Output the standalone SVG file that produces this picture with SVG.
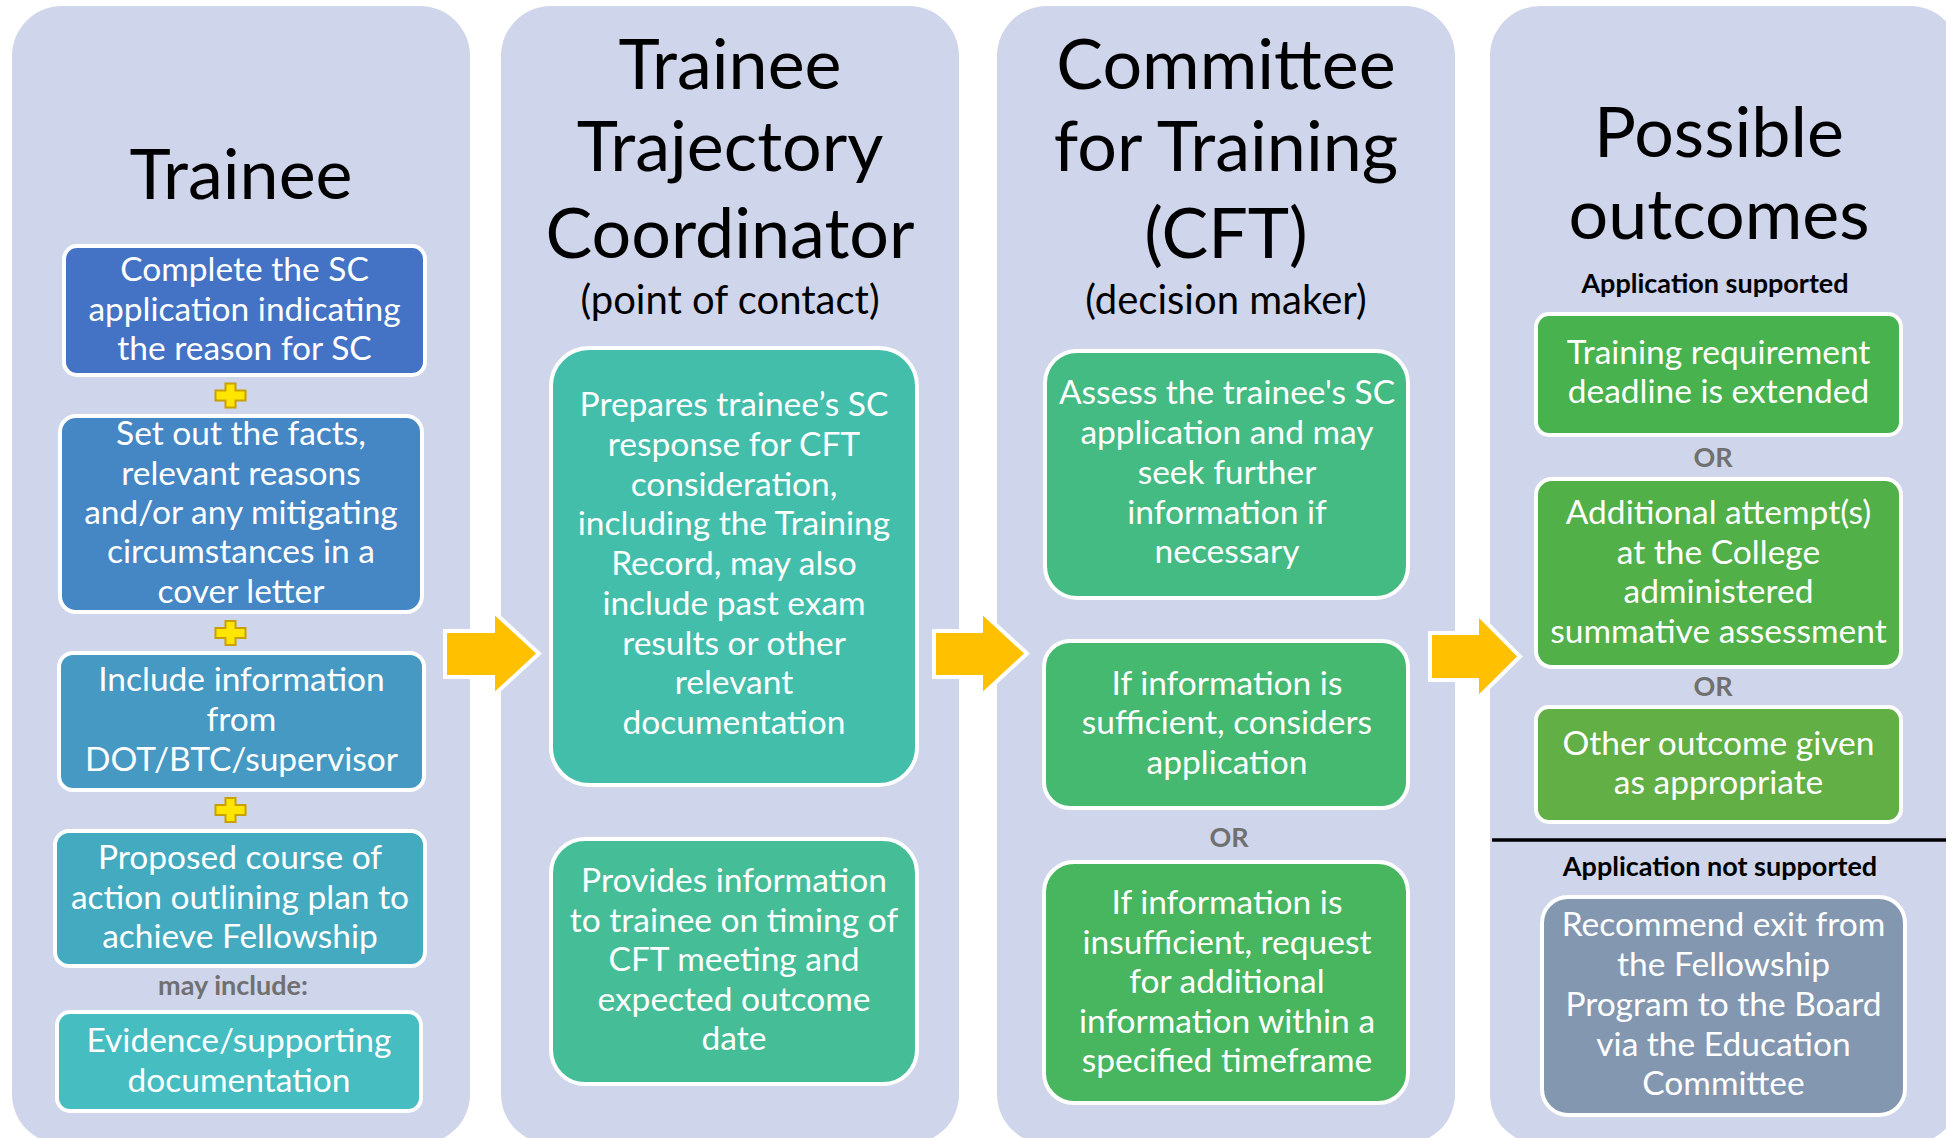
<svg xmlns="http://www.w3.org/2000/svg" width="1946" height="1138" viewBox="0 0 1946 1138">
<style>
.col{fill:#CFD5EA}
.title{font-family:Lato,"Open Sans","Liberation Sans",sans-serif;font-size:70px;fill:#000;text-anchor:middle}
.sub{font-family:Lato,"Open Sans","Liberation Sans",sans-serif;font-size:40px;fill:#000;text-anchor:middle}
.box{stroke:#fff;stroke-width:4}
.bt{font-family:Lato,"Open Sans","Liberation Sans",sans-serif;font-size:33.5px;fill:#fff;text-anchor:middle}
.lbl{font-family:Lato,"Open Sans","Liberation Sans",sans-serif;font-size:27px;font-weight:bold;text-anchor:middle}
.gray{fill:#707070}
.blk{fill:#000}
.arrow{fill:#FFC000;stroke:#fff;stroke-width:4;stroke-linejoin:miter}
.plus{fill:#FFE500;stroke:#C8A000;stroke-width:2}
</style>
<rect width="1946" height="1138" fill="#fff"/>

<g id="lanes">
<rect id="lane-trainee" class="col" x="12" y="6" width="458" height="1138" rx="50"/>
<rect id="lane-ttc" class="col" x="501" y="6" width="458" height="1138" rx="50"/>
<rect id="lane-cft" class="col" x="997" y="6" width="458" height="1138" rx="50"/>
<rect id="lane-outcomes" class="col" x="1490" y="6" width="470" height="1138" rx="50"/>
</g>

<g id="titles">
<text class="title" x="241" y="199">Trainee</text>
<text class="title" x="730" y="89">Trainee</text>
<text class="title" x="730" y="171">Trajectory</text>
<text class="title" x="730" y="258">Coordinator</text>
<text class="sub" x="730" y="314">(point of contact)</text>
<text class="title" x="1226" y="89">Committee</text>
<text class="title" x="1226" y="171">for Training</text>
<text class="title" x="1226" y="258">(CFT)</text>
<text class="sub" x="1226" y="314">(decision maker)</text>
<text class="title" x="1719" y="157">Possible</text>
<text class="title" x="1719" y="239">outcomes</text>
</g>

<g id="connectors">
<polygon class="arrow" points="445,631 493,631 493,611 539,653.5 493,696 493,677 445,677"/>
<polygon class="arrow" points="934,631 981,631 981,611 1027,653.5 981,696 981,677 934,677"/>
<polygon class="arrow" points="1430,633 1477,633 1477,613 1520,656.5 1477,699 1477,680 1430,680"/>
</g>

<g id="plus-signs">
<polygon class="plus" points="225.5,383.5 235.5,383.5 235.5,390.5 245.5,390.5 245.5,400.5 235.5,400.5 235.5,407.5 225.5,407.5 225.5,400.5 215.5,400.5 215.5,390.5 225.5,390.5"/>
<polygon class="plus" points="225.5,621 235.5,621 235.5,628 245.5,628 245.5,638 235.5,638 235.5,645 225.5,645 225.5,638 215.5,638 215.5,628 225.5,628"/>
<polygon class="plus" points="225.5,798 235.5,798 235.5,805 245.5,805 245.5,815 235.5,815 235.5,822 225.5,822 225.5,815 215.5,815 215.5,805 225.5,805"/>
</g>

<g id="node-complete">
<rect class="box" x="64" y="246" width="361" height="129" rx="13" fill="#4472C4"/>
<text class="bt" x="244.5" y="281">Complete the SC</text>
<text class="bt" x="244.5" y="321">application indicating</text>
<text class="bt" x="244.5" y="360">the reason for SC</text>
</g>

<g id="node-facts">
<rect class="box" x="60" y="416" width="362" height="196" rx="16" fill="#4586C4"/>
<text class="bt" x="241" y="445">Set out the facts,</text>
<text class="bt" x="241" y="485">relevant reasons</text>
<text class="bt" x="241" y="524">and/or any mitigating</text>
<text class="bt" x="241" y="563">circumstances in a</text>
<text class="bt" x="241" y="603">cover letter</text>
</g>

<g id="node-include">
<rect class="box" x="59" y="653" width="365" height="137" rx="14" fill="#4599C3"/>
<text class="bt" x="241.5" y="691">Include information</text>
<text class="bt" x="241.5" y="731">from</text>
<text class="bt" x="241.5" y="771">DOT/BTC/supervisor</text>
</g>

<g id="node-proposed">
<rect class="box" x="55" y="831" width="370" height="135" rx="14" fill="#43AAC0"/>
<text class="bt" x="240" y="869">Proposed course of</text>
<text class="bt" x="240" y="909">action outlining plan to</text>
<text class="bt" x="240" y="948">achieve Fellowship</text>
</g>

<text class="lbl gray" x="233" y="995">may include:</text>

<g id="node-evidence">
<rect class="box" x="57" y="1012" width="364" height="99" rx="13" fill="#45BDC1"/>
<text class="bt" x="239" y="1052">Evidence/supporting</text>
<text class="bt" x="239" y="1092">documentation</text>
</g>

<g id="node-prepares">
<rect class="box" x="551" y="348" width="366" height="437" rx="38" fill="#43BEAB"/>
<text class="bt" x="734" y="416">Prepares trainee’s SC</text>
<text class="bt" x="734" y="456">response for CFT</text>
<text class="bt" x="734" y="495.5">consideration,</text>
<text class="bt" x="734" y="535">including the Training</text>
<text class="bt" x="734" y="575">Record, may also</text>
<text class="bt" x="734" y="615">include past exam</text>
<text class="bt" x="734" y="654.5">results or other</text>
<text class="bt" x="734" y="694">relevant</text>
<text class="bt" x="734" y="734">documentation</text>
</g>

<g id="node-provides">
<rect class="box" x="551" y="839" width="366" height="245" rx="34" fill="#45BE98"/>
<text class="bt" x="734" y="892">Provides information</text>
<text class="bt" x="734" y="931.5">to trainee on timing of</text>
<text class="bt" x="734" y="971">CFT meeting and</text>
<text class="bt" x="734" y="1010.5">expected outcome</text>
<text class="bt" x="734" y="1050">date</text>
</g>

<g id="node-assess">
<rect class="box" x="1045" y="351" width="363" height="247" rx="32" fill="#44BB83"/>
<text class="bt" x="1227" y="404">Assess the trainee's SC</text>
<text class="bt" x="1227" y="444">application and may</text>
<text class="bt" x="1227" y="484">seek further</text>
<text class="bt" x="1227" y="524">information if</text>
<text class="bt" x="1227" y="563">necessary</text>
</g>

<g id="node-sufficient">
<rect class="box" x="1044" y="641" width="364" height="167" rx="26" fill="#46B970"/>
<text class="bt" x="1227" y="694.5">If information is</text>
<text class="bt" x="1227" y="734">sufficient, considers</text>
<text class="bt" x="1227" y="774">application</text>
</g>

<text class="lbl gray" x="1229" y="847">OR</text>

<g id="node-insufficient">
<rect class="box" x="1044" y="862" width="364" height="241" rx="30" fill="#47B65E"/>
<text class="bt" x="1227" y="914">If information is</text>
<text class="bt" x="1227" y="954">insufficient, request</text>
<text class="bt" x="1227" y="993">for additional</text>
<text class="bt" x="1227" y="1033">information within a</text>
<text class="bt" x="1227" y="1072">specified timeframe</text>
</g>

<text class="lbl blk" x="1715" y="293">Application supported</text>

<g id="node-extended">
<rect class="box" x="1536" y="314" width="365" height="121" rx="13" fill="#48B24F"/>
<text class="bt" x="1718.5" y="364">Training requirement</text>
<text class="bt" x="1718.5" y="403">deadline is extended</text>
</g>

<text class="lbl gray" x="1713" y="467">OR</text>

<g id="node-additional">
<rect class="box" x="1536" y="479" width="365" height="188" rx="16" fill="#52B048"/>
<text class="bt" x="1718.5" y="524">Additional attempt(s)</text>
<text class="bt" x="1718.5" y="563.5">at the College</text>
<text class="bt" x="1718.5" y="603">administered</text>
<text class="bt" x="1718.5" y="642.5">summative assessment</text>
</g>

<text class="lbl gray" x="1713" y="696">OR</text>

<g id="node-other">
<rect class="box" x="1536" y="707" width="365" height="115" rx="13" fill="#62AF46"/>
<text class="bt" x="1718.5" y="755">Other outcome given</text>
<text class="bt" x="1718.5" y="794">as appropriate</text>
</g>

<line x1="1492" y1="840" x2="1946" y2="840" stroke="#000" stroke-width="3.5"/>

<text class="lbl blk" x="1720" y="876">Application not supported</text>

<g id="node-exit">
<rect class="box" x="1542" y="897" width="363" height="218" rx="26" fill="#8497B0"/>
<text class="bt" x="1723.5" y="936">Recommend exit from</text>
<text class="bt" x="1723.5" y="976">the Fellowship</text>
<text class="bt" x="1723.5" y="1016">Program to the Board</text>
<text class="bt" x="1723.5" y="1056">via the Education</text>
<text class="bt" x="1723.5" y="1095">Committee</text>
</g>
</svg>
